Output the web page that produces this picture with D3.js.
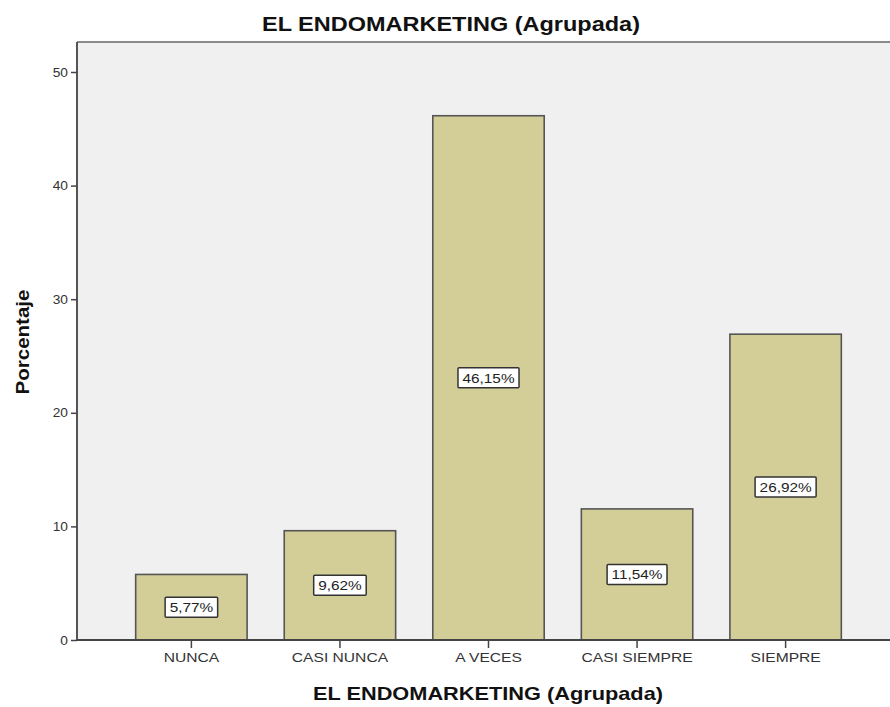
<!DOCTYPE html>
<html><head><meta charset="utf-8">
<script src="https://cdn.jsdelivr.net/npm/d3@7"></script>
<style>body{margin:0;background:#fff;} svg{display:block;font-family:Arial,"Liberation Sans",sans-serif;}</style>
</head><body>
<svg id="c" width="890" height="707"></svg>
<script>
const categories = ["NUNCA","CASI NUNCA","A VECES","CASI SIEMPRE","SIEMPRE"];
const values = [5.77, 9.62, 46.15, 11.54, 26.92];
const valueLabels = ["5,77%","9,62%","46,15%","11,54%","26,92%"];
const yTicks = [0,10,20,30,40,50];

const svg = d3.select("#c");
const pLeft = 77, pRight = 900, pTop = 42, pBottom = 640;
const x = d3.scaleBand().domain(categories).range([pLeft, pRight]).paddingInner(0.25).paddingOuter(0.395);
const y = d3.scaleLinear().domain([0, 50]).range([pBottom, 72]);

function stretch(sel, k) {
  sel.each(function() {
    const w = this.getComputedTextLength();
    d3.select(this).attr("textLength", w * k).attr("lengthAdjust", "spacingAndGlyphs");
  });
}

svg.append("rect").attr("x", pLeft).attr("y", pTop).attr("width", pRight-pLeft).attr("height", pBottom-pTop).attr("fill", "#f0f0f0");
svg.append("line").attr("x1", pLeft).attr("x2", 890).attr("y1", pTop).attr("y2", pTop).attr("stroke", "#8a8a8a").attr("stroke-width", 2);

svg.append("text").attr("x", 451).attr("y", 31).attr("text-anchor", "middle").attr("font-weight", "bold").attr("font-size", 19.5).attr("fill", "#111")
  .attr("textLength", 378).attr("lengthAdjust", "spacingAndGlyphs").text("EL ENDOMARKETING (Agrupada)");

const g = svg.append("g");
g.selectAll("rect.bar").data(values).join("rect").attr("class","bar")
  .attr("x", (d,i)=>x(categories[i])).attr("width", x.bandwidth())
  .attr("y", d=>y(d)).attr("height", d=>pBottom - y(d))
  .attr("fill", "#d3ce97").attr("stroke", "#555").attr("stroke-width", 1.6);

const lab = g.selectAll("g.lab").data(values).join("g").attr("class","lab")
  .attr("transform", (d,i)=>`translate(${x(categories[i]) + x.bandwidth()/2},${(y(d)+pBottom)/2})`);
const labRect = lab.append("rect");
const labText = lab.append("text").attr("text-anchor","middle").attr("dy", 5).attr("font-size", 13).attr("fill", "#222")
  .text((d,i)=>valueLabels[i]);
stretch(labText, 1.18);
labRect.each(function(d,i) {
  const t = labText.nodes()[i];
  const w = +t.getAttribute("textLength") + 9;
  d3.select(this).attr("x", -w/2).attr("y", -10).attr("width", w).attr("height", 20);
}).attr("fill", "#fff").attr("stroke", "#333").attr("stroke-width", 1.5).attr("rx", 1);

// axes
const yAxis = d3.axisLeft(y).tickValues(yTicks).tickSize(6).tickPadding(3);
const ya = svg.append("g").attr("transform", `translate(${pLeft},0)`).call(yAxis);
ya.select(".domain").attr("d", `M0,${pTop}V${pBottom}`).attr("stroke", "#555").attr("stroke-width", 2);
ya.selectAll(".tick line").attr("stroke", "#444").attr("stroke-width", 1.5);
ya.selectAll(".tick text").attr("font-size", 12.5).attr("fill", "#333").attr("font-family", "Arial, sans-serif");
stretch(ya.selectAll(".tick text"), 1.1);

const xAxis = d3.axisBottom(x).tickSize(8).tickPadding(5);
const xa = svg.append("g").attr("transform", `translate(0,${pBottom})`).call(xAxis);
xa.select(".domain").attr("d", `M${pLeft},0H890`).attr("stroke", "#444").attr("stroke-width", 2);
xa.selectAll(".tick line").attr("stroke", "#444").attr("stroke-width", 1.5);
xa.selectAll(".tick text").attr("font-size", 13).attr("fill", "#333").attr("font-family", "Arial, sans-serif");
stretch(xa.selectAll(".tick text"), 1.2);

svg.append("text").attr("x", 488).attr("y", 700).attr("text-anchor", "middle").attr("font-weight", "bold").attr("font-size", 18.5).attr("fill", "#111")
  .attr("textLength", 350).attr("lengthAdjust", "spacingAndGlyphs").text("EL ENDOMARKETING (Agrupada)");
svg.append("text").attr("transform", "translate(29,342) rotate(-90)").attr("text-anchor", "middle").attr("font-weight", "bold").attr("font-size", 17.5).attr("fill", "#111")
  .attr("textLength", 105).attr("lengthAdjust", "spacingAndGlyphs").text("Porcentaje");
</script>
</body></html>
